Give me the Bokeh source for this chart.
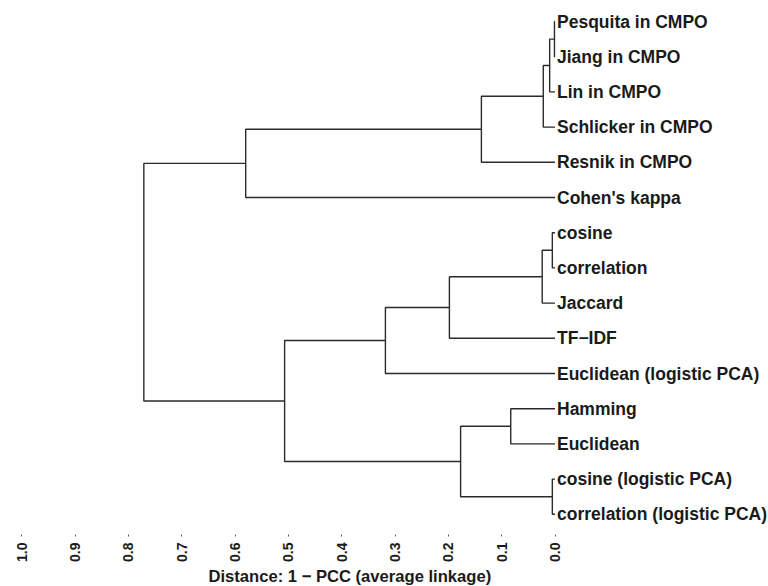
import math
from bokeh.plotting import figure
from bokeh.models import Range1d, FixedTicker, PrintfTickFormatter, ColumnDataSource, Title
from bokeh.core.properties import value
from bokeh.embed import file_html
from bokeh.resources import INLINE

# Leaves in display order (top to bottom)
leaves = ["Pesquita in CMPO", "Jiang in CMPO", "Lin in CMPO", "Schlicker in CMPO",
          "Resnik in CMPO", "Cohen's kappa", "cosine", "correlation", "Jaccard",
          "TF\u2212IDF", "Euclidean (logistic PCA)", "Hamming", "Euclidean",
          "cosine (logistic PCA)", "correlation (logistic PCA)"]

# Merges (scipy style): child indices < 15 are leaves, >= 15 are earlier merges
merge_left = [0, 15, 16, 17, 18, 6, 20, 21, 22, 11, 13, 24, 23, 19]
merge_right = [1, 2, 3, 4, 5, 7, 8, 9, 10, 12, 14, 25, 26, 27]
merge_height = [0.001, 0.010, 0.022, 0.138, 0.580, 0.005, 0.024, 0.198, 0.318,
                0.083, 0.005, 0.177, 0.507, 0.771]

tick_values = [1.0, 0.9, 0.8, 0.7, 0.6, 0.5, 0.4, 0.3, 0.2, 0.1, 0.0]
x_title = "Distance: 1 \u2212 PCC (average linkage)"

n = len(leaves)
node_y = [float(i) for i in range(n)]
node_h = [0.0] * n
xs, ys = [], []
for a, b, h in zip(merge_left, merge_right, merge_height):
    ya, yb = node_y[a], node_y[b]
    ha, hb = node_h[a], node_h[b]
    xs.append([ha, h, h, hb])
    ys.append([ya, ya, yb, yb])
    node_y.append((ya + yb) / 2.0)
    node_h.append(h)

W, H = 768, 586
frame_bottom = 534
px_per_unit = 533.3
zero_px = 554.5
leaf_top_px = 21.0
leaf_step_px = 35.2

x_start = zero_px / px_per_unit
x_end = x_start - W / px_per_unit
y_end = -leaf_top_px / leaf_step_px
y_start = y_end + frame_bottom / leaf_step_px

p = figure(width=W, height=H, output_backend="svg", toolbar_location=None,
           x_range=Range1d(start=x_start, end=x_end),
           y_range=Range1d(start=y_start, end=y_end),
           min_border_left=0, min_border_right=0, min_border_top=0,
           min_border_bottom=H - frame_bottom)
p.outline_line_color = None
p.grid.visible = False
p.yaxis.visible = False
p.background_fill_color = "white"
p.border_fill_color = "white"

p.multi_line(xs=xs, ys=ys, line_color="#2b2b2b", line_width=1.4)

src = ColumnDataSource(dict(x=[0.0] * n, y=list(range(n)), t=leaves))
p.text(x="x", y="y", text="t", source=src, x_offset=2,
       text_baseline="middle", text_align="left",
       text_font=value("Liberation Sans"), text_font_style="bold",
       text_font_size="17.5px", text_color="#1a1a1a")

ax = p.xaxis[0]
ax.ticker = FixedTicker(ticks=tick_values)
ax.formatter = PrintfTickFormatter(format="%.1f")
ax.major_label_orientation = math.pi / 2
ax.axis_line_color = None
ax.major_tick_out = 2
ax.major_tick_in = 0
ax.major_tick_line_color = "#555555"
ax.minor_tick_line_color = None
ax.major_label_standoff = 6
ax.major_label_text_font = "Liberation Sans"
ax.major_label_text_font_style = "bold"
ax.major_label_text_font_size = "14px"
ax.major_label_text_color = "#1a1a1a"

t = Title(text=x_title, align="left", offset=208, standoff=0,
          text_font="Liberation Sans", text_font_style="bold",
          text_font_size="16.6px", text_color="#1a1a1a")
p.add_layout(t, "below")

open("out.html", "w").write(file_html(p, INLINE))
